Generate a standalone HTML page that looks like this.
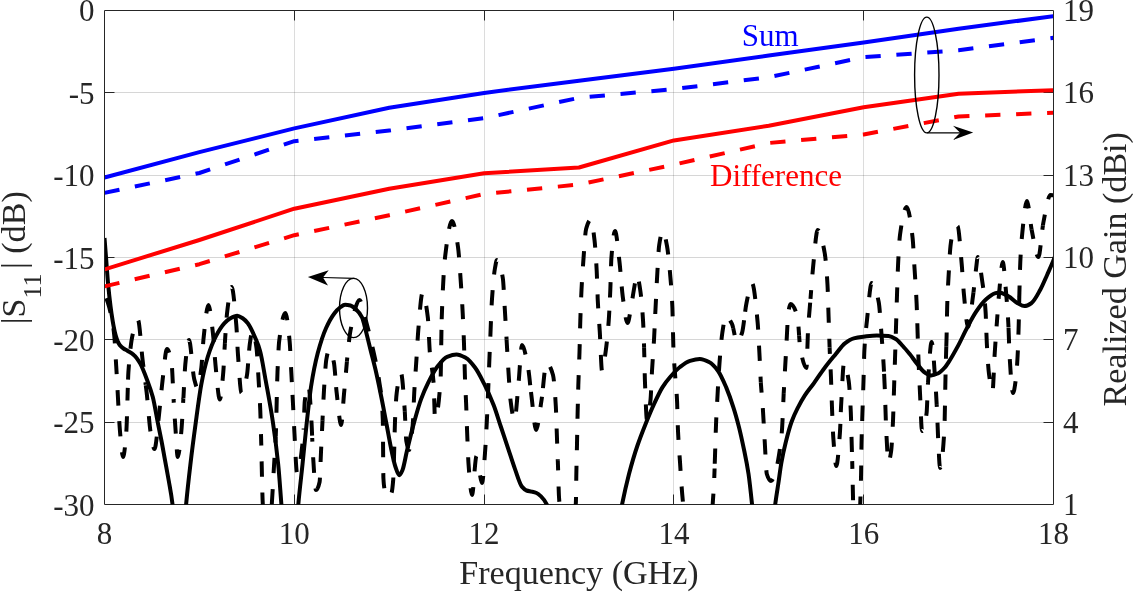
<!DOCTYPE html>
<html><head><meta charset="utf-8"><style>
html,body{margin:0;padding:0;background:#fff;}
svg{display:block;will-change:transform;}
text{font-family:"Liberation Serif",serif;}
</style></head><body>
<svg width="1133" height="592" viewBox="0 0 1133 592">
<defs><clipPath id="pa"><rect x="105" y="11" width="948" height="493.5"/></clipPath></defs>
<rect x="0" y="0" width="1133" height="592" fill="#fff"/>

<path d="M294.5,10.5V504.5 M484.5,10.5V504.5 M673.5,10.5V504.5 M863.5,10.5V504.5" stroke="#262626" stroke-opacity="0.16" stroke-width="1" fill="none"/>
<path d="M104.5,92.5H1053.5 M104.5,175.5H1053.5 M104.5,257.5H1053.5 M104.5,339.5H1053.5 M104.5,422.5H1053.5" stroke="#262626" stroke-opacity="0.19" stroke-width="1" fill="none"/>
<path d="M104.5,10.5H1053.5V504.5H104.5Z M294.5,504.5v-10M294.5,10.5v10 M484.5,504.5v-10M484.5,10.5v10 M673.5,504.5v-10M673.5,10.5v10 M863.5,504.5v-10M863.5,10.5v10 M104.5,92.5h10M1053.5,92.5h-10 M104.5,175.5h10M1053.5,175.5h-10 M104.5,257.5h10M1053.5,257.5h-10 M104.5,339.5h10M1053.5,339.5h-10 M104.5,422.5h10M1053.5,422.5h-10" stroke="#262626" stroke-width="1" fill="none"/>
<g clip-path="url(#pa)" fill="none" stroke-width="4" stroke-linejoin="round">
<g stroke="#000" stroke-dasharray="15.3 15.7">
<path d="M104.5,295.0C105.7,296.6 106.8,299.6 108.0,303.0C108.9,305.7 109.9,309.5 110.8,314.0C111.9,319.4 113.1,324.6 114.2,335.0C114.9,341.1 115.5,355.3 116.2,366.0C117.6,388.0 118.9,420.3 120.3,435.0C121.2,444.7 122.1,457.0 123.0,457.0C124.1,457.0 125.2,445.8 126.3,432.0C126.8,425.9 127.3,404.0 127.8,387.9" stroke-dashoffset="27.3"/>
<path d="M127.8,387.9C128.0,380.9 128.2,375.0 128.4,372.0C129.9,351.2 131.3,340.1 132.8,334.0C134.5,326.8 136.3,320.0 138.0,320.0C139.5,320.0 141.1,347.2 142.6,360.0C143.6,368.7 144.7,376.1 145.7,384.7" stroke-dashoffset="22.8"/>
<path d="M145.7,384.7C146.0,387.0 146.3,389.4 146.6,392.0C148.0,404.1 149.3,424.9 150.7,433.0C152.0,440.5 153.2,449.0 154.5,449.0C156.0,449.0 157.5,427.8 159.0,415.0C159.5,410.3 160.1,404.7 160.6,399.0" stroke-dashoffset="30.5"/>
<path d="M160.6,399.0C161.3,392.6 161.9,386.1 162.5,381.0C164.0,368.6 165.5,349.0 167.0,349.0C168.6,349.0 170.1,354.8 171.7,364.5C172.3,368.4 173.0,388.8 173.6,399.5C173.7,400.5 173.7,401.5 173.8,402.5" stroke-dashoffset="22.3"/>
<path d="M173.8,402.5C174.4,412.7 175.0,422.2 175.6,430.6C176.3,440.3 177.0,457.0 177.7,457.0C178.9,457.0 180.2,443.4 181.4,430.6C182.0,424.0 182.7,410.2 183.3,399.5C183.3,399.2 183.3,398.8 183.4,398.5" stroke-dashoffset="15.0"/>
<path d="M183.4,398.5C184.0,387.2 184.7,371.0 185.3,364.5C186.5,352.1 187.8,340.0 189.0,340.0C190.1,340.0 191.2,353.0 192.3,364.3" stroke-dashoffset="3.9"/>
<path d="M192.3,364.3C192.9,370.7 193.6,376.6 194.2,379.0C195.3,383.3 196.4,388.0 197.5,388.0C198.8,388.0 200.0,377.8 201.3,368.0C201.8,363.8 202.4,354.4 202.9,346.5" stroke-dashoffset="23.9"/>
<path d="M202.9,346.5C203.2,342.8 203.4,339.4 203.7,337.0C205.3,322.5 206.8,305.0 208.4,305.0C209.9,305.0 211.5,320.8 213.0,334.0C213.5,338.2 214.0,345.3 214.5,352.2" stroke-dashoffset="28.8"/>
<path d="M214.5,352.2C214.8,357.0 215.2,361.6 215.5,365.0C216.9,379.2 218.4,399.5 219.8,399.5C221.0,399.5 222.1,385.4 223.3,372.0C223.8,366.0 224.3,352.1 224.9,343.1" stroke-dashoffset="26.2"/>
<path d="M224.9,343.1C224.9,342.4 225.0,341.7 225.0,341.0C225.8,329.2 226.5,317.2 227.3,311.0C228.7,299.3 230.2,287.0 231.6,287.0C233.2,287.0 234.7,306.6 236.3,325.0C236.6,328.4 236.9,334.1 237.2,339.9" stroke-dashoffset="5.6"/>
<path d="M237.2,339.9C237.4,345.5 237.7,351.2 238.0,355.0C239.2,371.1 240.3,393.0 241.5,393.0C243.3,393.0 245.2,384.8 247.0,375.0C247.4,372.8 247.8,367.8 248.2,362.4" stroke-dashoffset="24.2"/>
<path d="M248.2,362.4C248.7,355.3 249.3,347.5 249.8,344.0C250.7,338.0 251.6,331.0 252.5,331.0C253.8,331.0 255.2,338.6 256.5,348.0C257.2,352.9 257.9,368.3 258.6,380.0C259.2,389.4 259.7,397.0 260.3,411.0C260.6,418.4 260.9,430.8 261.2,442.0C261.2,443.0 261.3,444.1 261.3,445.3" stroke-dashoffset="19.2"/>
<path d="M261.3,445.3C261.7,463.1 262.2,490.8 262.6,500.0C264.2,534.3 265.9,560.0 267.5,560.0C269.1,560.0 270.7,520.9 272.3,496.0C272.9,487.2 273.4,475.9 274.0,466.0C274.6,455.8 275.2,449.5 275.8,436.1" stroke-dashoffset="14.9"/>
<path d="M275.8,436.1C275.8,435.7 275.8,435.4 275.8,435.0C276.4,421.6 276.9,385.9 277.5,372.0C278.1,358.1 278.6,345.6 279.2,341.0C281.3,324.1 283.3,313.0 285.4,313.0C286.8,313.0 288.2,326.4 289.6,341.0C290.2,346.9 290.7,361.5 291.3,372.0C291.7,378.9 292.0,385.8 292.4,392.8" stroke-dashoffset="7.4"/>
<path d="M292.4,392.8C292.6,396.5 292.8,400.2 293.0,404.0C293.5,413.7 294.0,425.1 294.5,434.0C295.3,448.8 296.2,473.0 297.0,473.0C299.1,473.0 301.2,457.7 303.3,435.0C303.4,433.9 303.5,432.0 303.6,429.6" stroke-dashoffset="28.9"/>
<path d="M303.6,429.6C304.0,420.3 304.4,404.0 304.8,401.0C306.0,391.6 307.3,386.0 308.5,386.0C309.5,386.0 310.6,407.1 311.6,424.0C311.8,427.5 312.0,432.7 312.2,438.0" stroke-dashoffset="14.1"/>
<path d="M312.2,438.0C312.5,444.4 312.7,451.0 313.0,455.0C314.0,470.9 315.0,490.0 316.0,490.0C317.2,490.0 318.4,487.5 319.6,482.0C320.1,479.9 320.5,461.8 321.0,452.0C321.5,441.5 322.0,431.3 322.5,421.0C322.5,420.8 322.5,420.5 322.5,420.3" stroke-dashoffset="11.7"/>
<path d="M322.5,420.3C323.0,410.1 323.5,397.9 324.0,390.0C324.8,377.1 325.6,363.4 326.4,359.0C327.3,354.2 328.1,350.0 329.0,350.0C330.6,350.0 332.2,355.2 333.8,362.0C334.6,365.3 335.4,377.9 336.1,387.1" stroke-dashoffset="10.5"/>
<path d="M336.1,387.1C336.3,389.3 336.5,391.4 336.7,393.0C338.2,406.0 339.7,425.0 341.2,425.0C342.1,425.0 343.1,403.7 344.0,394.0C345.0,383.8 346.0,372.3 346.9,361.6" stroke-dashoffset="2.2"/>
<path d="M346.9,361.6C348.2,348.3 349.4,336.3 350.6,330.0C353.6,314.8 356.5,300.0 359.5,300.0C361.8,300.0 364.2,314.5 366.5,323.0C369.0,332.1 371.5,342.4 374.0,354.0C375.7,361.7 377.3,368.2 379.0,380.0C379.8,385.8 380.6,388.4 381.5,397.7" stroke-dashoffset="11.3"/>
<path d="M381.5,397.7C381.9,402.6 382.4,409.6 382.8,420.0C383.0,424.7 383.2,474.6 383.4,478.0C383.9,487.2 384.5,489.3 385.0,491.0C386.1,494.5 387.2,497.0 388.3,497.0C389.4,497.0 390.4,495.5 391.5,493.0C392.1,491.7 392.6,487.3 393.2,480.0C393.5,475.7 393.9,461.0 394.2,450.0C394.3,445.8 394.5,440.5 394.6,435.4" stroke-dashoffset="17.8"/>
<path d="M394.6,435.4C394.7,429.7 394.9,424.3 395.0,421.0C395.6,407.6 396.1,397.5 396.7,393.0C398.1,381.7 399.6,373.0 401.0,373.0C402.2,373.0 403.5,393.0 404.7,410.0C404.7,410.5 404.8,411.1 404.8,411.7" stroke-dashoffset="28.1"/>
<path d="M404.8,411.7C405.3,420.0 405.8,438.0 406.3,441.0C407.2,446.4 408.1,450.0 409.0,450.0C410.2,450.0 411.5,438.4 412.7,425.0C413.3,418.9 413.8,399.9 414.4,390.0C414.8,383.0 415.2,377.2 415.6,371.5" stroke-dashoffset="6.2"/>
<path d="M415.6,371.5C415.9,367.8 416.1,364.1 416.4,360.0C417.0,350.3 417.7,337.4 418.3,330.0C419.7,313.6 421.1,293.0 422.5,293.0C424.3,293.0 426.1,303.4 427.9,318.0C428.5,323.1 429.2,344.6 429.8,352.0C429.9,353.1 430.0,354.2 430.1,355.1" stroke-dashoffset="0.2"/>
<path d="M430.1,355.1C431.3,366.8 432.4,367.4 433.6,383.0C434.1,389.2 434.5,418.0 435.0,418.0C436.9,418.0 438.7,406.9 440.6,379.0C441.0,373.6 441.3,330.7 441.7,319.3" stroke-dashoffset="18.4"/>
<path d="M441.7,319.3C441.7,319.2 441.7,319.1 441.7,319.0C442.9,284.4 444.0,265.9 445.2,256.0C447.5,236.7 449.7,221.0 452.0,221.0C454.0,221.0 456.0,233.3 458.0,247.0C458.9,253.4 459.9,268.7 460.8,282.0C461.4,291.0 462.1,300.6 462.7,313.0C463.1,321.5 463.6,331.6 464.0,344.0C464.1,347.7 464.3,352.6 464.4,357.6" stroke-dashoffset="2.2"/>
<path d="M464.4,357.6C464.6,365.3 464.8,373.5 465.0,379.0C465.4,388.9 465.7,394.0 466.1,403.0C466.5,412.0 466.8,424.9 467.2,434.0C467.7,445.6 468.1,458.7 468.6,465.0C469.7,480.2 470.9,495.0 472.0,495.0C472.8,495.0 473.5,485.2 474.2,475.5" stroke-dashoffset="24.4"/>
<path d="M474.2,475.5C475.0,465.7 475.8,456.0 476.5,456.0C477.4,456.0 478.3,462.7 479.2,469.5" stroke-dashoffset="26.9"/>
<path d="M479.2,469.5C480.2,476.2 481.1,483.0 482.0,483.0C483.0,483.0 484.0,465.9 485.0,453.0C485.6,445.2 486.2,433.9 486.8,422.0C487.3,412.8 487.7,401.1 488.2,390.0C488.4,384.0 488.7,377.8 488.9,371.4" stroke-dashoffset="25.1"/>
<path d="M488.9,371.4C489.3,362.5 489.6,353.4 490.0,345.0C490.7,329.0 491.3,308.8 492.0,299.0C493.0,284.4 494.0,273.6 495.0,268.0C495.7,264.3 496.3,260.0 497.0,260.0C498.9,260.0 500.9,266.8 502.8,278.0C503.5,281.9 504.1,298.1 504.8,309.0C505.4,318.6 506.0,329.5 506.6,339.6" stroke-dashoffset="27.0"/>
<path d="M506.6,339.6C506.6,340.4 506.7,341.2 506.7,342.0C507.4,353.3 508.0,365.0 508.7,375.0C509.3,384.0 509.9,395.3 510.5,400.0C511.8,410.4 513.2,420.0 514.5,420.0C515.8,420.0 517.1,397.9 518.4,385.0C518.5,384.2 518.6,383.4 518.6,382.6" stroke-dashoffset="3.1"/>
<path d="M518.6,382.6C519.8,369.6 520.9,345.0 522.0,345.0C523.9,345.0 525.9,356.0 527.8,366.0C528.7,370.5 529.6,379.0 530.4,387.1" stroke-dashoffset="29.0"/>
<path d="M530.4,387.1C530.9,391.0 531.3,394.7 531.7,398.0C533.1,409.2 534.6,430.0 536.0,430.0C537.8,430.0 539.6,412.3 541.4,401.0C541.6,399.8 541.8,398.3 542.0,396.7" stroke-dashoffset="26.3"/>
<path d="M542.0,396.7C543.5,384.3 545.0,363.0 546.5,363.0C548.7,363.0 550.8,367.4 553.0,375.0C553.9,378.3 554.9,390.3 555.8,406.0C556.2,412.2 556.5,426.0 556.9,436.0C557.2,444.4 557.5,452.3 557.8,460.9" stroke-dashoffset="22.3"/>
<path d="M557.8,460.9C557.9,462.6 557.9,464.3 558.0,466.0C558.3,475.7 558.7,492.2 559.0,497.0C561.8,537.4 564.7,560.0 567.5,560.0C570.3,560.0 573.1,548.3 575.9,502.0C576.0,499.8 576.2,483.3 576.3,476.0C576.5,463.3 576.8,455.2 577.0,444.0C577.2,434.4 577.4,422.8 577.6,414.0C577.8,405.1 578.0,396.9 578.2,389.6" stroke-dashoffset="5.6"/>
<path d="M578.2,389.6C578.3,387.3 578.3,385.1 578.4,383.0C578.8,370.9 579.1,364.1 579.5,352.0C579.8,343.2 580.0,329.4 580.3,321.0C580.7,308.4 581.1,298.0 581.5,290.0C582.1,277.4 582.8,268.5 583.4,260.0C584.3,247.9 585.2,232.3 586.1,229.0C587.7,223.3 589.2,219.5 590.8,219.5C592.0,219.5 593.3,229.8 594.5,240.0C595.2,246.1 596.0,256.9 596.7,271.0C597.0,276.5 597.3,287.1 597.6,295.0" stroke-dashoffset="0.8"/>
<path d="M597.6,295.0C597.6,297.3 597.7,299.3 597.8,301.0C598.5,314.5 599.1,321.0 599.8,332.0C600.5,344.1 601.3,371.0 602.0,371.0C603.2,371.0 604.4,360.4 605.6,352.0C606.6,344.8 607.7,335.1 608.7,321.0C609.1,316.0 609.4,309.1 609.8,301.1" stroke-dashoffset="2.0"/>
<path d="M609.8,301.1C610.0,297.6 610.1,293.9 610.3,290.0C610.7,281.4 611.0,262.9 611.4,258.0C612.6,242.0 613.8,231.0 615.0,231.0C616.5,231.0 618.0,249.3 619.5,262.0C620.0,266.0 620.4,271.5 620.9,277.1" stroke-dashoffset="27.3"/>
<path d="M620.9,277.1C621.5,284.6 622.2,292.3 622.8,297.0C624.4,308.6 625.9,323.0 627.5,323.0C628.8,323.0 630.1,311.9 631.4,305.0C631.7,303.2 632.1,301.2 632.4,299.0" stroke-dashoffset="21.6"/>
<path d="M632.4,299.0C632.9,295.6 633.5,291.9 634.0,289.0C635.0,283.7 636.0,275.0 637.0,275.0C638.0,275.0 639.0,282.2 640.0,288.5C641.0,294.8 642.0,303.9 643.0,320.0C643.4,325.6 643.7,336.1 644.1,347.2" stroke-dashoffset="30.4"/>
<path d="M644.1,347.2C644.1,348.8 644.2,350.4 644.2,352.0C644.5,360.5 644.7,376.0 645.0,383.0C645.7,400.6 646.3,420.0 647.0,420.0C648.2,420.0 649.3,411.1 650.5,400.0C651.0,395.2 651.5,379.6 652.0,371.0C652.7,359.5 653.3,351.9 654.0,340.0C654.2,335.7 654.5,330.6 654.7,325.4" stroke-dashoffset="5.1"/>
<path d="M654.7,325.4C655.0,319.9 655.2,314.2 655.5,309.0C656.2,295.6 656.8,281.1 657.5,270.0C658.1,260.5 658.6,248.7 659.2,245.0C660.4,237.1 661.6,231.0 662.8,231.0C664.2,231.0 665.6,238.7 667.0,246.0C668.1,251.9 669.3,264.1 670.4,277.4C671.1,285.2 671.7,292.3 672.4,307.7C672.7,315.4 673.1,339.9 673.4,347.8C674.1,363.5 674.7,369.5 675.4,379.0C675.9,386.6 676.5,389.8 677.0,400.0C677.3,405.1 677.5,417.4 677.8,425.8" stroke-dashoffset="19.7"/>
<path d="M677.8,425.8C677.9,427.8 677.9,429.6 678.0,431.0C678.7,445.3 679.3,452.0 680.0,462.0C680.7,473.0 681.5,485.8 682.2,494.0C687.5,552.6 692.7,620.0 698.0,620.0C703.3,620.0 708.5,566.8 713.8,488.0C714.1,484.1 714.3,476.5 714.6,468.5" stroke-dashoffset="1.2"/>
<path d="M714.6,468.5C714.7,464.3 714.9,460.0 715.0,456.0C715.3,446.4 715.7,433.1 716.0,425.0C716.5,412.1 717.1,403.5 717.6,394.0C718.2,382.8 718.9,371.3 719.5,363.0C720.4,350.8 721.4,339.1 722.3,333.0C723.5,324.9 724.8,316.0 726.0,316.0C728.0,316.0 730.0,320.1 732.0,324.0C732.4,324.8 732.8,326.3 733.2,328.1" stroke-dashoffset="26.3"/>
<path d="M733.2,328.1C734.5,333.6 735.7,342.0 737.0,342.0C738.7,342.0 740.3,337.8 742.0,333.0C743.0,330.1 744.0,320.8 745.0,312.9" stroke-dashoffset="8.2"/>
<path d="M745.0,312.9C745.5,308.9 746.0,305.3 746.5,303.0C748.3,294.3 750.2,283.0 752.0,283.0C753.9,283.0 755.7,302.0 757.6,322.0C758.2,328.4 758.8,341.9 759.4,353.0C759.9,361.9 760.4,374.3 760.8,382.5" stroke-dashoffset="29.8"/>
<path d="M760.8,382.5C760.9,383.4 760.9,384.2 761.0,385.0C761.5,392.5 762.0,396.0 762.5,403.0C763.2,413.3 764.0,428.9 764.7,441.0C765.4,452.5 766.1,471.7 766.8,474.0C768.2,478.6 769.6,481.0 771.0,481.0C772.7,481.0 774.3,475.3 776.0,470.0C777.0,466.8 778.0,461.2 779.0,455.0C780.0,449.0 780.9,442.7 781.9,431.0C782.5,423.6 783.1,406.3 783.7,393.2" stroke-dashoffset="5.2"/>
<path d="M783.7,393.2C783.8,391.4 783.9,389.6 784.0,388.0C784.7,374.1 785.5,361.7 786.2,349.0C786.9,336.3 787.7,316.5 788.4,312.0C789.1,307.7 789.8,304.0 790.5,304.0C792.8,304.0 795.2,308.6 797.5,317.0C798.0,318.9 798.6,327.7 799.1,335.5" stroke-dashoffset="9.2"/>
<path d="M799.1,335.5C799.5,341.0 799.8,346.0 800.2,348.0C802.3,359.3 804.4,368.0 806.5,368.0C807.0,368.0 807.5,339.7 808.0,331.0C808.8,317.1 809.6,310.1 810.4,300.0C810.4,299.6 810.5,299.2 810.5,298.8" stroke-dashoffset="8.8"/>
<path d="M810.5,298.8C811.3,288.2 812.2,276.3 813.0,268.0C814.6,252.4 816.1,230.0 817.7,230.0C820.0,230.0 822.4,240.1 824.7,253.0C825.6,258.2 826.6,268.6 827.5,285.0C827.9,291.4 828.2,306.3 828.6,317.0C828.9,326.9 829.3,338.1 829.6,347.3" stroke-dashoffset="6.5"/>
<path d="M829.6,347.3C829.7,349.0 829.7,350.5 829.8,352.0C830.2,361.9 830.6,367.9 831.0,378.0C831.3,386.4 831.7,399.4 832.0,408.0C832.5,420.0 832.9,432.6 833.4,439.0C834.4,452.3 835.3,466.0 836.3,466.0C837.5,466.0 838.7,449.6 839.9,433.0C840.2,429.1 840.5,421.7 840.7,414.6" stroke-dashoffset="8.8"/>
<path d="M840.7,414.6C840.9,409.9 841.1,405.3 841.3,402.0C842.2,385.9 843.1,363.0 844.0,363.0C845.6,363.0 847.1,370.7 848.7,381.0C849.4,385.6 850.1,396.5 850.8,412.0C851.1,418.6 851.4,433.0 851.7,444.0C851.9,449.7 852.0,455.3 852.2,461.1" stroke-dashoffset="28.6"/>
<path d="M852.2,461.1C852.3,465.2 852.4,469.5 852.5,474.0C852.7,482.2 852.9,495.8 853.1,501.0C854.4,534.5 855.7,560.0 857.0,560.0C858.3,560.0 859.7,526.3 861.0,478.0C861.2,472.0 861.3,452.8 861.5,445.0C861.7,434.7 861.9,428.0 862.2,421.3" stroke-dashoffset="7.4"/>
<path d="M862.2,421.3C862.2,418.9 862.3,416.5 862.4,414.0C862.8,402.2 863.1,392.8 863.5,381.0C863.8,371.4 864.1,355.6 864.4,350.0C865.3,333.7 866.1,328.3 867.0,320.0C868.6,305.1 870.1,283.0 871.7,283.0C874.0,283.0 876.4,290.7 878.7,302.0C879.6,306.3 880.5,321.5 881.4,333.0C882.1,342.0 882.8,351.1 883.5,363.0C883.7,365.7 883.8,368.6 884.0,371.6" stroke-dashoffset="30.7"/>
<path d="M884.0,371.6C884.3,378.1 884.7,385.4 885.0,394.0C885.3,402.4 885.7,418.0 886.0,425.0C886.8,442.6 887.7,462.0 888.5,462.0C889.3,462.0 890.2,457.4 891.0,452.0C891.7,447.7 892.3,435.3 893.0,421.0C893.3,413.8 893.7,400.3 894.0,390.0C894.3,379.7 894.7,369.5 895.0,359.0C895.3,350.9 895.5,342.5 895.8,334.1" stroke-dashoffset="28.6"/>
<path d="M895.8,334.1C896.2,320.7 896.6,307.2 897.0,295.0C897.4,284.1 897.7,271.5 898.1,264.0C898.7,251.1 899.4,239.6 900.0,235.0C902.2,218.6 904.5,207.0 906.7,207.0C908.6,207.0 910.6,220.7 912.5,237.0C913.2,242.6 913.8,257.4 914.5,268.0C915.1,278.1 915.8,285.9 916.4,299.0C916.7,304.2 916.9,311.0 917.2,318.6" stroke-dashoffset="30.6"/>
<path d="M917.2,318.6C917.6,333.1 918.1,350.1 918.6,362.0C919.1,373.5 919.5,383.4 920.0,393.0C920.7,406.7 921.3,431.0 922.0,431.0C923.5,431.0 925.1,424.6 926.6,413.0C927.0,410.0 927.4,395.5 927.8,386.8" stroke-dashoffset="26.2"/>
<path d="M927.8,386.8C927.9,385.4 927.9,384.1 928.0,383.0C929.2,364.3 930.4,342.0 931.6,342.0C932.9,342.0 934.1,365.5 935.4,383.0C935.8,388.9 936.3,396.5 936.7,404.9" stroke-dashoffset="28.9"/>
<path d="M936.7,404.9C936.8,406.9 936.9,408.9 937.0,411.0C937.5,420.4 937.9,435.4 938.4,444.0C938.9,453.8 939.5,468.0 940.0,468.0C941.4,468.0 942.9,454.4 944.3,431.0C944.8,423.4 945.2,386.4 945.7,368.0C945.9,359.7 946.1,353.5 946.3,346.2" stroke-dashoffset="13.2"/>
<path d="M946.3,346.2C946.4,343.1 946.5,339.8 946.6,336.0C946.8,327.6 947.0,312.3 947.2,306.0C947.7,290.1 948.2,283.0 948.7,274.0C949.3,263.2 949.9,251.1 950.5,246.0C951.3,239.0 952.2,233.9 953.0,232.0C954.5,228.6 956.0,226.0 957.5,226.0C958.9,226.0 960.3,248.5 961.7,264.0C962.0,267.4 962.3,271.9 962.6,276.5" stroke-dashoffset="1.4"/>
<path d="M962.6,276.5C963.1,283.3 963.5,290.3 964.0,295.0C965.3,308.7 966.7,327.0 968.0,327.0C969.7,327.0 971.3,308.3 973.0,296.0C973.2,294.8 973.3,293.5 973.5,292.2" stroke-dashoffset="19.1"/>
<path d="M973.5,292.2C974.5,283.8 975.5,272.9 976.5,265.0C976.9,262.1 977.2,257.0 977.6,257.0C979.1,257.0 980.7,270.7 982.2,281.0C983.3,288.6 984.5,295.5 985.6,312.0C985.8,314.4 985.9,318.9 986.1,323.9" stroke-dashoffset="10.2"/>
<path d="M986.1,323.9C986.3,330.8 986.6,338.6 986.8,343.0C987.5,356.8 988.3,368.5 989.0,374.0C990.2,382.8 991.3,391.0 992.5,391.0C993.3,391.0 994.0,363.8 994.8,352.0C995.4,342.8 996.0,334.5 996.6,326.4" stroke-dashoffset="22.2"/>
<path d="M996.6,326.4C996.7,324.6 996.9,322.8 997.0,321.0C997.8,310.6 998.5,299.0 999.3,291.0C1000.4,279.2 1001.6,262.0 1002.7,262.0C1003.9,262.0 1005.0,280.8 1006.2,294.0C1006.9,302.3 1007.7,311.2 1008.4,325.0C1008.4,325.7 1008.5,326.6 1008.5,327.5" stroke-dashoffset="3.3"/>
<path d="M1008.5,327.5C1008.9,335.7 1009.2,350.1 1009.6,356.0C1010.7,374.6 1011.9,393.0 1013.0,393.0C1014.0,393.0 1015.0,385.7 1016.0,378.0C1016.5,373.9 1017.1,366.1 1017.6,356.0C1018.0,349.1 1018.3,338.0 1018.7,325.0C1018.9,317.8 1019.1,306.0 1019.3,296.9" stroke-dashoffset="30.4"/>
<path d="M1019.3,296.9C1019.3,295.6 1019.4,294.2 1019.4,293.0C1019.7,281.1 1020.0,268.6 1020.3,262.0C1020.9,249.5 1021.4,241.8 1022.0,236.0C1023.7,219.0 1025.3,201.0 1027.0,201.0C1028.5,201.0 1030.0,221.1 1031.6,229.3" stroke-dashoffset="4.1"/>
<path d="M1031.6,229.3C1031.6,229.6 1031.7,229.8 1031.7,230.0C1033.9,241.0 1036.2,257.0 1038.4,257.0C1039.9,257.0 1041.4,235.6 1042.9,225.6" stroke-dashoffset="5.5"/>
<path d="M1042.9,225.6C1043.0,224.6 1043.2,223.7 1043.3,223.0C1045.7,210.8 1048.1,195.0 1050.5,195.0C1052.3,195.0 1054.2,195.0 1056.0,197.0" stroke-dashoffset="4.2"/>
</g>
<path d="M104.5,238.0C105.0,244.3 105.5,250.6 106.0,257.0C106.7,265.9 107.4,276.5 108.1,284.0C108.9,292.6 109.7,299.7 110.5,306.0C111.2,311.7 112.0,316.9 112.7,321.1C113.7,327.0 114.8,332.3 115.8,335.9C116.5,338.4 117.3,340.5 118.0,342.0C118.7,343.4 119.3,344.6 120.0,345.4C121.2,346.8 122.3,347.7 123.5,348.5C124.8,349.4 126.1,349.9 127.4,350.7C129.5,352.0 131.7,353.0 133.8,354.9C135.9,356.7 138.0,359.7 140.1,363.3C142.4,367.3 144.8,373.8 147.1,380.0C149.0,385.1 150.9,389.9 152.8,397.1C154.4,403.3 156.1,414.0 157.7,422.2C159.0,428.6 160.2,434.4 161.5,441.0C162.7,447.1 163.8,453.8 165.0,460.2C166.3,467.1 167.5,473.6 168.8,481.0C170.0,488.0 171.2,493.4 172.4,503.5C174.6,522.0 176.8,600.0 179.0,600.0C181.4,600.0 183.8,529.5 186.2,503.5C187.6,488.4 189.0,476.3 190.4,464.4C192.2,449.1 194.0,435.5 195.8,422.3C197.6,408.9 199.5,394.1 201.3,384.4C203.4,373.1 205.6,363.8 207.7,357.0C210.5,348.0 213.3,341.2 216.1,335.9C218.9,330.6 221.7,326.2 224.5,323.2C226.3,321.2 228.2,319.5 230.0,318.5C232.4,317.2 234.8,315.8 237.2,315.8C239.1,315.8 241.1,317.3 243.0,318.5C244.6,319.5 246.2,321.2 247.8,323.2C250.6,326.8 253.4,333.4 256.2,340.1C257.5,343.1 258.7,346.2 260.0,350.7C261.9,357.4 263.7,369.8 265.6,380.0C268.0,393.3 270.5,405.8 272.9,422.2C274.7,434.1 276.4,446.9 278.2,464.4C279.3,475.0 280.3,490.7 281.4,504.5C284.3,541.5 287.1,620.0 290.0,620.0C292.8,620.0 295.5,535.2 298.3,504.5C299.7,489.0 301.1,478.0 302.5,464.4C303.8,451.5 305.2,437.1 306.5,425.0C308.1,410.5 309.7,395.1 311.3,385.0C313.4,371.6 315.6,361.4 317.7,353.3C320.5,342.7 323.3,334.2 326.1,328.0C328.9,321.8 331.7,316.8 334.5,313.2C336.3,310.8 338.2,308.8 340.0,307.5C341.7,306.3 343.4,304.8 345.1,304.8C346.9,304.8 348.7,305.1 350.5,305.5C352.2,305.9 354.0,307.5 355.7,309.0C357.8,310.9 359.9,313.2 362.0,317.4C363.2,319.8 364.4,325.5 365.6,330.0C367.3,336.5 369.1,344.1 370.8,351.1C372.6,358.2 374.3,364.5 376.1,372.2C377.9,379.9 379.6,388.7 381.4,397.5C383.2,406.3 384.9,415.8 386.7,425.0C388.4,434.1 390.2,444.5 391.9,452.4C393.1,457.9 394.3,463.6 395.5,467.0C396.8,470.6 398.0,475.2 399.3,475.2C400.4,475.2 401.4,472.5 402.5,470.0C403.9,466.7 405.4,457.5 406.8,451.5C409.2,441.7 411.5,431.7 413.9,423.1C416.3,414.5 418.6,405.9 421.0,399.4C423.4,392.9 425.7,387.7 428.1,382.9C431.3,376.5 434.4,370.3 437.6,366.3C440.8,362.3 443.9,358.0 447.1,356.8C450.2,355.6 453.4,354.5 456.5,354.5C459.7,354.5 462.8,356.3 466.0,358.0C469.0,359.6 472.0,363.5 475.0,367.5C478.1,371.6 481.1,377.8 484.2,383.9C487.4,390.2 490.5,397.0 493.7,405.2C496.1,411.3 498.4,419.4 500.8,426.5C503.2,433.6 505.5,440.7 507.9,447.8C510.3,454.9 512.6,462.6 515.0,469.1C517.4,475.6 519.7,484.1 522.1,486.9C523.6,488.6 525.0,490.0 526.5,490.5C528.2,491.1 529.8,491.2 531.5,491.6C533.2,492.0 534.8,492.3 536.5,493.0C538.0,493.6 539.5,495.0 541.0,496.4C543.0,498.3 544.9,500.8 546.9,504.6C559.6,529.3 572.3,720.0 585.0,720.0C597.3,720.0 609.7,564.5 622.0,504.7C624.3,493.4 626.7,482.9 629.0,474.0C631.8,463.4 634.5,454.2 637.3,446.0C640.1,437.7 642.9,430.7 645.7,423.7C648.5,416.8 651.2,410.2 654.0,404.2C656.8,398.1 659.6,391.9 662.4,387.4C665.2,382.9 668.0,379.5 670.8,376.3C673.9,372.8 676.9,369.3 680.0,367.0C683.3,364.5 686.7,361.9 690.0,360.9C693.3,359.9 696.5,359.0 699.8,359.0C703.0,359.0 706.3,360.6 709.5,362.3C712.3,363.7 715.1,367.0 717.9,370.7C720.7,374.4 723.4,380.9 726.2,387.4C728.5,392.9 730.9,399.6 733.2,406.9C735.1,412.7 736.9,419.1 738.8,426.4C740.7,433.7 742.5,442.3 744.4,451.5C745.8,458.2 747.1,464.6 748.5,473.8C749.6,481.4 750.8,492.5 751.9,503.0C755.6,537.4 759.3,620.0 763.0,620.0C767.1,620.0 771.3,534.0 775.4,503.0C776.4,495.7 777.3,490.3 778.3,483.8C779.3,477.0 780.3,468.8 781.3,463.1C782.8,454.8 784.2,448.3 785.7,442.4C787.7,434.4 789.6,427.1 791.6,421.7C793.6,416.3 795.5,412.3 797.5,408.4C800.0,403.4 802.5,398.9 805.0,395.1C807.9,390.6 810.9,387.3 813.8,383.3C817.3,378.5 820.7,373.1 824.2,368.5C828.1,363.2 832.1,358.5 836.0,353.7C839.0,350.1 841.9,345.5 844.9,343.3C847.9,341.1 850.8,339.2 853.8,338.4C857.5,337.4 861.3,337.0 865.0,336.5C868.9,336.0 872.9,335.4 876.8,335.4C880.7,335.4 884.7,335.6 888.6,336.0C891.0,336.2 893.3,337.5 895.7,338.9C898.1,340.3 900.4,343.4 902.8,346.0C905.2,348.6 907.5,351.4 909.9,354.3C912.3,357.2 914.6,360.8 917.0,363.7C919.4,366.6 921.7,370.4 924.1,372.0C926.5,373.6 928.8,375.5 931.2,375.5C933.6,375.5 935.9,374.3 938.3,373.2C940.5,372.1 942.8,369.8 945.0,367.3C946.4,365.8 947.7,363.5 949.1,361.4C952.2,356.6 955.2,351.1 958.3,345.4C961.3,339.7 964.4,332.8 967.4,327.1C970.4,321.4 973.5,315.6 976.5,311.2C979.5,306.8 982.6,302.5 985.6,299.8C988.7,297.1 991.7,294.3 994.8,293.4C996.3,293.0 997.8,292.5 999.3,292.5C1002.3,292.5 1005.4,294.7 1008.4,296.3C1011.5,297.9 1014.5,301.6 1017.6,303.2C1019.9,304.4 1022.1,306.1 1024.4,306.1C1026.7,306.1 1029.0,304.7 1031.3,303.2C1034.3,301.3 1037.4,294.9 1040.4,289.5C1042.7,285.4 1044.9,279.8 1047.2,274.7C1049.5,269.5 1051.8,264.5 1054.1,258.7C1055.4,255.4 1056.7,251.8 1058.0,248.0" stroke="#000"/>
<polyline points="104.5,177.5 199.4,152.1 294.3,128.4 389.2,107.7 484.1,92.9 579.0,80.8 673.9,68.8 768.8,55.5 863.7,42.4 958.6,28.8 1053.5,16.1" stroke="#0000ff"/>
<polyline points="104.5,192.9 199.4,173.0 294.3,141.2 389.2,130.6 484.1,118.2 579.0,97.8 673.9,89.1 768.8,77.2 863.7,57.2 958.6,50.3 1053.5,37.8" stroke="#0000ff" stroke-dasharray="15.3 15.7"/>
<polyline points="104.5,269.4 199.4,240.0 294.3,208.7 389.2,188.7 484.1,173.2 579.0,167.5 673.9,140.4 768.8,125.7 863.7,107.3 958.6,93.8 1053.5,90.2" stroke="#ff0000"/>
<polyline points="104.5,286.3 199.4,264.2 294.3,235.2 389.2,215.2 484.1,194.0 579.0,184.5 673.9,164.7 768.8,143.0 863.7,134.5 958.6,116.5 1053.5,112.7" stroke="#ff0000" stroke-dasharray="15.3 15.7"/>
</g>
<ellipse cx="353.5" cy="308" rx="14" ry="29.6" fill="none" stroke="#000" stroke-width="1.4"/>
<path d="M354.6,278.4 L323,277.5" stroke="#000" stroke-width="1.2" fill="none"/>
<path d="M307.9,277 L328.7,270.3 L323,277.5 L328,285.6 Z" fill="#000"/>
<ellipse cx="926.8" cy="75" rx="12.2" ry="57.9" fill="none" stroke="#000" stroke-width="1.4"/>
<path d="M927.2,132.8 L960,132.8" stroke="#000" stroke-width="1.2" fill="none"/>
<path d="M973.2,132.6 L953,125.8 L960.2,132.8 L953,140 Z" fill="#000"/>
<g font-size="31" fill="#262626">
<text x="94.5" y="20.5" text-anchor="end">0</text>
<text x="94.5" y="103.8" text-anchor="end">-5</text>
<text x="94.5" y="186.2" text-anchor="end">-10</text>
<text x="94.5" y="268.5" text-anchor="end">-15</text>
<text x="94.5" y="350.8" text-anchor="end">-20</text>
<text x="94.5" y="433.2" text-anchor="end">-25</text>
<text x="94.5" y="515.5" text-anchor="end">-30</text>
<text x="1063" y="20.8">19</text>
<text x="1063" y="103.1">16</text>
<text x="1063" y="185.5">13</text>
<text x="1063" y="267.8">10</text>
<text x="1063" y="350.1">7</text>
<text x="1063" y="432.5">4</text>
<text x="1063" y="514.8">1</text>
<text x="104.5" y="543.5" text-anchor="middle">8</text>
<text x="294.3" y="543.5" text-anchor="middle">10</text>
<text x="484.1" y="543.5" text-anchor="middle">12</text>
<text x="673.9" y="543.5" text-anchor="middle">14</text>
<text x="863.7" y="543.5" text-anchor="middle">16</text>
<text x="1053.5" y="543.5" text-anchor="middle">18</text>
</g>
<text x="741.8" y="46" font-size="31" fill="#0000ff">Sum</text>
<text x="710" y="186" font-size="31" fill="#ff0000">Difference</text>
<text x="579" y="584" font-size="34.1" fill="#262626" text-anchor="middle">Frequency (GHz)</text>
<text transform="translate(24.5,324.3) rotate(-90)" font-size="34.1" fill="#262626">|S<tspan font-size="26" dy="16.7">11</tspan><tspan dy="-16.7" dx="4.4">| (dB)</tspan></text>
<text transform="translate(1126,406.5) rotate(-90)" font-size="34.1" fill="#262626">Realized Gain (dBi)</text>
</svg></body></html>
